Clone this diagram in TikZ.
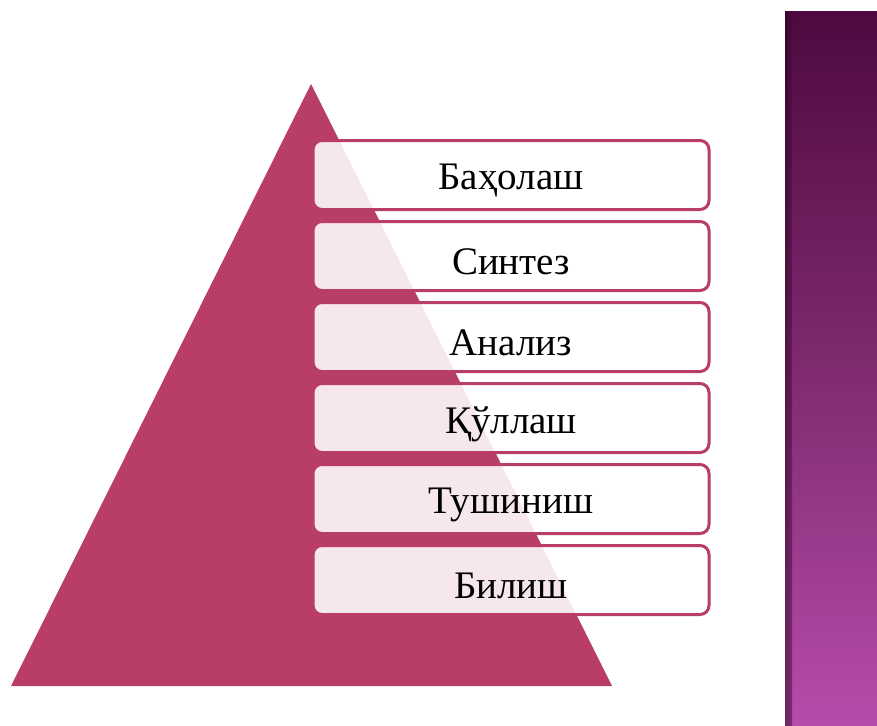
\documentclass[tikz,border=0pt]{standalone}
\usepackage{fontspec}
\setmainfont{Liberation Serif}
\definecolor{tri}{RGB}{184,61,104}
\definecolor{bartop}{RGB}{78,10,64}
\definecolor{barmid}{RGB}{128,42,112}
\definecolor{barbot}{RGB}{182,76,170}
\begin{document}
\begin{tikzpicture}[x=1pt,y=-1pt,
  level/.style={draw=tri,line width=3pt,fill=white,fill opacity=0.88,
    rounded corners=9pt,minimum width=396pt,minimum height=69pt,inner sep=0pt},
  lbl/.style={font=\fontsize{39}{43}\selectfont,text=black,inner sep=0pt}]
\useasboundingbox (0,0) rectangle (877,725);
% side bar
\shade[top color=bartop,bottom color=barbot,middle color=barmid] (785,12) rectangle (877,725);
\shade[left color=black!60!bartop,right color=bartop,opacity=0.5] (785,12) rectangle (792,725);
% pyramid
\fill[tri] (311,84) coordinate (apex) -- (612,686) coordinate (br) -- (11,686) coordinate (bl) -- cycle;
% levels
\foreach \t/\n [count=\i from 0] in {Баҳолаш/l1,Синтез/l2,Анализ/l3,Қўллаш/l4,Тушиниш/l5,Билиш/l6}{
  \node[level] (\n) at (511,{175+81*\i}) {};
  \node[lbl] (t\n) at ([yshift=-6pt]\n.center) {\t};
}
\end{tikzpicture}
\end{document}
